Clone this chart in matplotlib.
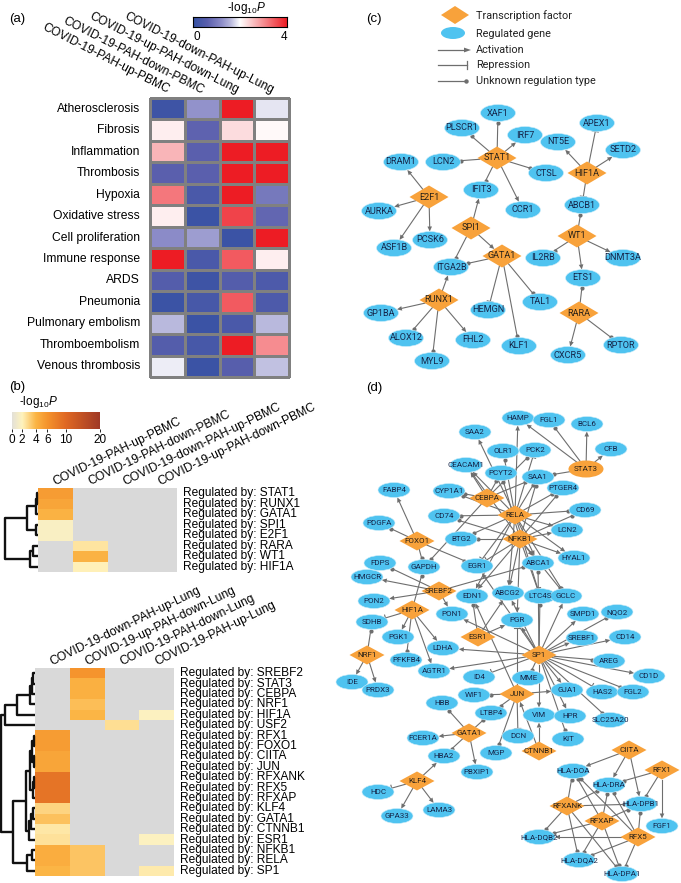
import numpy as np
import matplotlib
matplotlib.use('Agg')
import matplotlib.pyplot as plt
from matplotlib.colors import LinearSegmentedColormap
from matplotlib.patches import Ellipse, Polygon

plt.rcParams['font.family'] = ['Liberation Sans', 'DejaVu Sans']
plt.rcParams['mathtext.fontset'] = 'custom'
plt.rcParams['mathtext.rm'] = 'Liberation Sans'
plt.rcParams['mathtext.it'] = 'Liberation Sans:italic'

# ------------------------------------------------------------------ data (a)
a_conditions = ['COVID-19-PAH-up-PBMC', 'COVID-19-PAH-down-PBMC',
                'COVID-19-up-PAH-down-Lung', 'COVID-19-down-PAH-up-Lung']
a_terms = ['Atherosclerosis', 'Fibrosis', 'Inflammation', 'Thrombosis', 'Hypoxia',
           'Oxidative stress', 'Cell proliferation', 'Immune response', 'ARDS',
           'Pneumonia', 'Pulmonary embolism', 'Thromboembolism', 'Venous thrombosis']
a_pah_up_pbmc = [0.15, 2.15, 2.65, 0.6, 3.2, 2.15, 1.2, 4.0, 0.5, 0.1, 1.6, 0.5, 1.9]
a_pah_down_pbmc = [1.25, 0.65, 0.6, 0.6, 0.35, 0.1, 1.35, 0.35, 0.15, 0.3, 0.1, 0.3, 0.1]
a_up_pah_down_lung = [4.0, 2.3, 4.0, 4.0, 4.0, 3.65, 0.1, 3.45, 0.5, 3.45, 0.35, 4.0, 0.55]
a_down_pah_up_lung = [1.85, 2.05, 4.0, 4.0, 0.95, 0.7, 4.0, 2.15, 0.4, 0.4, 1.6, 3.0, 1.65]

# ------------------------------------------------------------------ data (b)
nan = np.nan
b1_conditions = ['COVID-19-PAH-up-PBMC', 'COVID-19-PAH-down-PBMC',
                 'COVID-19-down-PAH-up-PBMC', 'COVID-19-up-PAH-down-PBMC']
b1_regulators = ['STAT1', 'RUNX1', 'GATA1', 'SPI1', 'E2F1', 'RARA', 'WT1', 'HIF1A']
b1_pah_up_pbmc = [5.5, 5.0, 4.2, 1.6, 1.6, nan, nan, nan]
b1_pah_down_pbmc = [nan, nan, nan, nan, nan, 2.5, 4.2, 2.1]
b1_down_pah_up_pbmc = [nan] * 8
b1_up_pah_down_pbmc = [nan] * 8
b1_tree = (((('STAT1', 'RUNX1', 1), 'GATA1', 2), ('SPI1', 'E2F1', 2), 11),
           (('RARA', 'WT1', 5), 'HIF1A', 8), 33)

b2_conditions = ['COVID-19-down-PAH-up-Lung', 'COVID-19-up-PAH-down-Lung',
                 'COVID-19-PAH-down-Lung', 'COVID-19-PAH-up-Lung']
b2_regulators = ['SREBF2', 'STAT3', 'CEBPA', 'NRF1', 'HIF1A', 'USF2', 'RFX1', 'FOXO1',
                 'CIITA', 'JUN', 'RFXANK', 'RFX5', 'RFXAP', 'KLF4', 'GATA1', 'CTNNB1',
                 'ESR1', 'NFKB1', 'RELA', 'SP1']
b2_down_pah_up_lung = [nan, nan, nan, nan, nan, nan, 5.5, 5.5, 5.0, 5.0, 9.0, 9.0, 9.0,
                       3.0, 3.6, 2.4, 2.6, 4.5, 4.5, 4.0]
b2_up_pah_down_lung = [6.0, 4.3, 4.3, 3.7, 4.0, nan, nan, nan, nan, nan, nan, nan, nan,
                       nan, nan, nan, nan, 3.5, 3.5, 3.5]
b2_pah_down_lung = [nan, nan, nan, nan, nan, 2.7] + [nan] * 14
b2_pah_up_lung = [nan, nan, nan, nan, 1.8, nan, nan, nan, nan, nan, nan, nan, nan,
                  nan, nan, nan, 1.8, nan, nan, 2.3]
b2_tree = ((((((('SREBF2', 'STAT3', 2), 'CEBPA', 3), 'NRF1', 5), 'HIF1A', 18), 'USF2', 30),
            ((((('RFX1', 'FOXO1', 1), ('CIITA', 'JUN', 1), 3),
               (('RFXANK', 'RFX5', 1), 'RFXAP', 2), 5),
              ((('KLF4', 'GATA1', 2), 'CTNNB1', 4), 'ESR1', 6), 9),
             (('NFKB1', 'RELA', 3), 'SP1', 8), 22), 34))
b_cbar_ticks = [0, 2, 4, 6, 10, 20]

# ------------------------------------------------------------------ data (c)
c_tfs = ['STAT1', 'HIF1A', 'E2F1', 'SPI1', 'WT1', 'GATA1', 'RUNX1', 'RARA']
c_edges = [('STAT1', 'XAF1', 'u'), ('STAT1', 'PLSCR1', 'u'), ('STAT1', 'IRF7', 'a'),
           ('STAT1', 'LCN2', 'u'), ('STAT1', 'CTSL', 'u'), ('STAT1', 'IFIT3', 'u'),
           ('STAT1', 'CCR1', 'a'),
           ('HIF1A', 'NT5E', 'a'), ('HIF1A', 'APEX1', 'r'), ('HIF1A', 'SETD2', 'a'),
           ('HIF1A', 'ABCB1', 'r'),
           ('E2F1', 'DRAM1', 'a'), ('E2F1', 'AURKA', 'a'), ('E2F1', 'ASF1B', 'a'),
           ('E2F1', 'PCSK6', 'a'),
           ('SPI1', 'IFIT3', 'a'), ('SPI1', 'ITGA2B', 'u'), ('SPI1', 'GATA1', 'a'),
           ('GATA1', 'ITGA2B', 'u'), ('GATA1', 'HEMGN', 'r'), ('GATA1', 'KLF1', 'u'),
           ('GATA1', 'TAL1', 'u'),
           ('WT1', 'ABCB1', 'u'), ('WT1', 'IL2RB', 'u'), ('WT1', 'DNMT3A', 'a'),
           ('WT1', 'ETS1', 'a'),
           ('RUNX1', 'ITGA2B', 'a'), ('RUNX1', 'GP1BA', 'a'), ('RUNX1', 'ALOX12', 'u'),
           ('RUNX1', 'MYL9', 'u'), ('RUNX1', 'FHL2', 'a'),
           ('RARA', 'ETS1', 'u'), ('RARA', 'CXCR5', 'a'), ('RARA', 'RPTOR', 'u')]

# ------------------------------------------------------------------ data (d)
d_tfs = ['CEBPA', 'RELA', 'NFKB1', 'FOXO1', 'SREBF2', 'HIF1A', 'NRF1', 'ESR1', 'SP1',
         'JUN', 'GATA1', 'KLF4', 'CTNNB1', 'CIITA', 'RFX1', 'RFXANK', 'RFXAP', 'RFX5']
d_tf_round = ['STAT3']
d_edges = [
    ('STAT3', 'HAMP', 'a'), ('STAT3', 'FGL1', 'u'), ('STAT3', 'BCL6', 'a'),
    ('STAT3', 'CFB', 'a'), ('STAT3', 'SAA1', 'u'),
    ('CEBPA', 'CEACAM1', 'a'), ('CEBPA', 'CYP1A1', 'u'), ('CEBPA', 'PCK2', 'u'),
    ('CEBPA', 'SAA1', 'u'), ('CEBPA', 'PCYT2', 'u'), ('CEBPA', 'GAPDH', 'u'),
    ('RELA', 'SAA2', 'a'), ('RELA', 'HAMP', 'a'), ('RELA', 'OLR1', 'u'), ('RELA', 'PCK2', 'r'),
    ('RELA', 'CEACAM1', 'a'), ('RELA', 'SAA1', 'u'), ('RELA', 'PTGER4', 'u'),
    ('RELA', 'CD74', 'u'), ('RELA', 'CD69', 'u'), ('RELA', 'LCN2', 'a'), ('RELA', 'BTG2', 'u'),
    ('RELA', 'HYAL1', 'a'), ('RELA', 'EGR1', 'r'), ('RELA', 'ABCA1', 'a'), ('RELA', 'GCLC', 'u'),
    ('RELA', 'LTC4S', 'r'), ('RELA', 'EDN1', 'a'), ('RELA', 'ABCG2', 'a'), ('RELA', 'CYP1A1', 'u'),
    ('NFKB1', 'PCYT2', 'u'), ('NFKB1', 'SAA1', 'u'), ('NFKB1', 'CEACAM1', 'a'),
    ('NFKB1', 'CD74', 'u'), ('NFKB1', 'CD69', 'u'), ('NFKB1', 'LCN2', 'a'),
    ('NFKB1', 'BTG2', 'u'), ('NFKB1', 'HYAL1', 'a'), ('NFKB1', 'ABCA1', 'a'),
    ('NFKB1', 'GCLC', 'u'), ('NFKB1', 'LTC4S', 'r'), ('NFKB1', 'EDN1', 'a'),
    ('NFKB1', 'ABCG2', 'a'), ('NFKB1', 'PTGER4', 'u'), ('NFKB1', 'EGR1', 'r'),
    ('NFKB1', 'PGR', 'a'),
    ('FOXO1', 'FABP4', 'a'), ('FOXO1', 'PDGFA', 'u'), ('FOXO1', 'GAPDH', 'u'),
    ('FOXO1', 'EGR1', 'u'),
    ('SREBF2', 'FDPS', 'u'), ('SREBF2', 'HMGCR', 'a'), ('SREBF2', 'PON2', 'a'),
    ('SREBF2', 'PON1', 'a'), ('SREBF2', 'ABCA1', 'u'),
    ('HIF1A', 'GAPDH', 'u'), ('HIF1A', 'SDHB', 'r'), ('HIF1A', 'PGK1', 'a'),
    ('HIF1A', 'PFKFB4', 'u'), ('HIF1A', 'AGTR1', 'a'), ('HIF1A', 'LDHA', 'a'),
    ('NRF1', 'SDHB', 'u'), ('NRF1', 'IDE', 'a'), ('NRF1', 'PRDX3', 'a'),
    ('ESR1', 'ABCG2', 'a'), ('ESR1', 'PGR', 'a'), ('ESR1', 'EDN1', 'u'),
    ('SP1', 'LDHA', 'a'), ('SP1', 'PON1', 'a'), ('SP1', 'AGTR1', 'a'), ('SP1', 'PGR', 'a'),
    ('SP1', 'LTC4S', 'u'), ('SP1', 'GCLC', 'a'), ('SP1', 'SMPD1', 'a'), ('SP1', 'NQO2', 'u'),
    ('SP1', 'SREBF1', 'a'), ('SP1', 'CD14', 'a'), ('SP1', 'AREG', 'u'), ('SP1', 'CD1D', 'a'),
    ('SP1', 'FGL2', 'u'), ('SP1', 'HAS2', 'r'), ('SP1', 'SLC25A20', 'u'), ('SP1', 'GJA1', 'a'),
    ('SP1', 'HPR', 'a'), ('SP1', 'KIT', 'u'), ('SP1', 'VIM', 'a'), ('SP1', 'MME', 'u'),
    ('SP1', 'ID4', 'r'), ('SP1', 'ABCG2', 'a'), ('SP1', 'ABCA1', 'u'), ('SP1', 'EGR1', 'a'),
    ('JUN', 'EDN1', 'a'), ('JUN', 'GJA1', 'a'), ('JUN', 'LTBP4', 'u'), ('JUN', 'MGP', 'u'),
    ('JUN', 'DCN', 'r'), ('JUN', 'WIF1', 'u'), ('JUN', 'PGR', 'r'),
    ('GATA1', 'HBB', 'u'), ('GATA1', 'LTBP4', 'u'), ('GATA1', 'FCER1A', 'a'),
    ('GATA1', 'HBA2', 'u'), ('GATA1', 'PBXIP1', 'a'),
    ('KLF4', 'HBA2', 'a'), ('KLF4', 'HDC', 'r'), ('KLF4', 'GPA33', 'a'), ('KLF4', 'LAMA3', 'a'),
    ('CTNNB1', 'VIM', 'a'), ('CTNNB1', 'JUN', 'a'),
    ('CIITA', 'HLA-DOA', 'a'), ('CIITA', 'HLA-DRA', 'a'), ('CIITA', 'HLA-DPB1', 'a'),
    ('RFX1', 'HLA-DRA', 'u'), ('RFX1', 'HLA-DPB1', 'u'), ('RFX1', 'FGF1', 'a'),
    ('RFXANK', 'HLA-DOA', 'u'), ('RFXANK', 'HLA-DRA', 'u'), ('RFXANK', 'HLA-DPB1', 'u'),
    ('RFXANK', 'HLA-DQB2', 'u'), ('RFXANK', 'HLA-DQA2', 'u'), ('RFXANK', 'HLA-DPA1', 'u'),
    ('RFXAP', 'HLA-DOA', 'u'), ('RFXAP', 'HLA-DRA', 'u'), ('RFXAP', 'HLA-DPB1', 'u'),
    ('RFXAP', 'HLA-DQB2', 'u'), ('RFXAP', 'HLA-DQA2', 'u'), ('RFXAP', 'HLA-DPA1', 'u'),
    ('RFX5', 'HLA-DOA', 'u'), ('RFX5', 'HLA-DRA', 'u'), ('RFX5', 'HLA-DPB1', 'u'),
    ('RFX5', 'HLA-DQB2', 'a'), ('RFX5', 'HLA-DQA2', 'u'), ('RFX5', 'HLA-DPA1', 'u'),
]

# ------------------------------------------------------------------ layout (pixels)
W, H = 681, 883
c_layout = {
    'XAF1': (498, 113), 'PLSCR1': (462, 128), 'IRF7': (525, 135), 'NT5E': (558, 142),
    'APEX1': (597, 123), 'SETD2': (623, 150), 'STAT1': (497, 158), 'LCN2': (443, 162),
    'DRAM1': (401, 162), 'CTSL': (546, 173), 'HIF1A': (587, 173), 'IFIT3': (481, 190),
    'E2F1': (429, 197), 'CCR1': (523, 210), 'ABCB1': (582, 205), 'AURKA': (379, 211),
    'ASF1B': (394, 248), 'PCSK6': (430, 240), 'SPI1': (471, 228), 'WT1': (577, 236),
    'GATA1': (502, 256), 'IL2RB': (543, 258), 'DNMT3A': (623, 258), 'ITGA2B': (451, 267),
    'ETS1': (583, 278), 'RUNX1': (439, 300), 'TAL1': (540, 302), 'HEMGN': (488, 310),
    'RARA': (579, 313), 'GP1BA': (381, 313), 'FHL2': (473, 340), 'ALOX12': (406, 338),
    'KLF1': (519, 346), 'RPTOR': (621, 345), 'CXCR5': (568, 355), 'MYL9': (432, 361)}
d_layout = {
    'HAMP': (518, 418), 'FGL1': (549, 420), 'BCL6': (587, 424), 'SAA2': (475, 432),
    'CFB': (611, 449), 'OLR1': (503, 451), 'PCK2': (535, 450), 'CEACAM1': (466, 465),
    'PCYT2': (501, 473), 'STAT3': (586, 469), 'SAA1': (538, 477), 'FABP4': (394, 490),
    'PTGER4': (563, 488), 'CYP1A1': (449, 491), 'CEBPA': (487, 498), 'CD69': (585, 510),
    'RELA': (515, 515), 'CD74': (444, 516), 'PDGFA': (379, 523), 'LCN2': (567, 530),
    'BTG2': (461, 539), 'FOXO1': (417, 541), 'NFKB1': (520, 539), 'HYAL1': (574, 558),
    'GAPDH': (424, 567), 'FDPS': (380, 563), 'EGR1': (477, 566), 'ABCA1': (538, 563),
    'HMGCR': (367, 577), 'SREBF2': (439, 591), 'EDN1': (472, 596), 'ABCG2': (508, 593),
    'LTC4S': (540, 596), 'GCLC': (566, 596), 'PON2': (374, 601), 'HIF1A': (412, 610),
    'PON1': (452, 614), 'SMPD1': (583, 614), 'NQO2': (617, 612), 'SDHB': (372, 622),
    'PGR': (517, 620), 'PGK1': (398, 637), 'ESR1': (478, 637), 'SREBF1': (582, 638),
    'CD14': (625, 637), 'LDHA': (443, 648), 'NRF1': (367, 655), 'SP1': (539, 655),
    'PFKFB4': (406, 660), 'AREG': (609, 661), 'AGTR1': (434, 671), 'IDE': (352, 682),
    'PRDX3': (378, 690), 'ID4': (479, 677), 'MME': (528, 678), 'CD1D': (649, 676),
    'GJA1': (567, 690), 'HAS2': (602, 692), 'FGL2': (633, 692), 'WIF1': (474, 695),
    'JUN': (517, 694), 'HBB': (442, 703), 'LTBP4': (491, 713), 'VIM': (539, 715),
    'HPR': (570, 716), 'SLC25A20': (610, 720), 'FCER1A': (423, 738), 'GATA1': (469, 733),
    'DCN': (518, 736), 'KIT': (568, 739), 'MGP': (496, 753), 'CTNNB1': (539, 751),
    'HBA2': (444, 756), 'CIITA': (629, 750), 'PBXIP1': (477, 772), 'HLA-DOA': (573, 771),
    'RFX1': (662, 770), 'KLF4': (417, 781), 'HLA-DRA': (609, 785), 'HDC': (378, 792),
    'RFXANK': (567, 806), 'HLA-DPB1': (641, 804), 'LAMA3': (439, 810), 'GPA33': (397, 816),
    'RFXAP': (602, 821), 'FGF1': (662, 826), 'HLA-DQB2': (539, 837), 'RFX5': (638, 837),
    'HLA-DQA2': (579, 860), 'HLA-DPA1': (622, 874)}

GENE_C = '#4fc3f0'
TF_C = '#f8a23b'
EDGE_C = '#6e6e6e'
NET_FONT = ['Roboto', 'DejaVu Sans']

fig = plt.figure(figsize=(W / 100, H / 100), dpi=100)
fig.patch.set_facecolor('white')


def px_axes(x0, y0, x1, y1):
    return fig.add_axes([x0 / W, 1 - y1 / H, (x1 - x0) / W, (y1 - y0) / H])


# ------------------------------------------------------------------ panel (a)
cmap_a = LinearSegmentedColormap.from_list(
    'bwr_a', [(0, '#3551a3'), (0.15, '#5a5fad'), (0.3, '#8c8cc8'), (0.4, '#b9b9dd'),
              (0.5, '#ffffff'), (1.0, '#ed1c24')])
ax = px_axes(150, 98, 289, 377)
Ma = np.array([a_pah_up_pbmc, a_pah_down_pbmc, a_up_pah_down_lung, a_down_pah_up_lung]).T
mesh = ax.pcolormesh(Ma, cmap=cmap_a, vmin=0, vmax=4, edgecolors='#808080', linewidth=1.0)
mesh.set_clip_on(False)
ax.set_xlim(0, 4)
ax.set_ylim(len(a_terms), 0)
ax.axis('off')
for i, t in enumerate(a_terms):
    ax.text(-0.29, i + 0.5, t, ha='right', va='center', fontsize=8.7)
for j, c in enumerate(a_conditions):
    ax.text(j + 0.5, -0.2, c, rotation=-27, rotation_mode='anchor', ha='right',
            va='baseline', fontsize=8.7)

cax = px_axes(193, 17, 287, 27)
cax.imshow(np.linspace(0, 4, 256)[None, :], cmap=cmap_a, vmin=0, vmax=4, aspect='auto',
           extent=(0, 4, 0, 1))
cax.set_xticks([])
cax.set_yticks([])
for s in cax.spines.values():
    s.set_linewidth(0.8)
cax.text(0.0, -0.35, '0', transform=cax.transAxes, ha='left', va='top', fontsize=8.5)
cax.text(1.0, -0.35, '4', transform=cax.transAxes, ha='right', va='top', fontsize=8.5)
fig.text(246 / W, 1 - 8 / H, r'-log$_{10}$$\it{P}$', ha='center', va='center', fontsize=8.5)
fig.text(9 / W, 1 - 19 / H, '(a)', ha='left', va='center', fontsize=9.5)

# ------------------------------------------------------------------ panel (b)
b_pos = [0, 0.115, 0.27, 0.40, 0.61, 1.0]
cmap_b = LinearSegmentedColormap.from_list(
    'orb', list(zip(b_pos, ['#e4e1d8', '#fff3bd', '#fbb545', '#f5942d', '#e06924', '#a03926'])))
cmap_b.set_bad('#d9d9d9')


def bnorm(v):
    v = np.asarray(v, dtype=float)
    out = np.interp(np.nan_to_num(v), b_cbar_ticks, b_pos)
    return np.ma.masked_invalid(np.where(np.isnan(v), np.nan, out))


def draw_dendro(axd, tree, order, maxh):
    idx = {n: i + 0.5 for i, n in enumerate(order)}

    def rec(node):
        if isinstance(node, str):
            return idx[node], 0.0
        l, r, h = node
        yl, hl = rec(l)
        yr, hr = rec(r)
        axd.plot([hl, h, h, hr], [yl, yl, yr, yr], color='#111111', lw=1.7,
                 solid_capstyle='butt', clip_on=False)
        return (yl + yr) / 2, h
    rec(tree)
    axd.set_xlim(maxh, 0)
    axd.set_ylim(len(order), 0)
    axd.axis('off')


def b_heat(x0, y0, x1, y1, cols, conds, regs, tree, dx0, maxh):
    axh = px_axes(x0, y0, x1, y1)
    M = bnorm(np.array(cols).T)
    axh.pcolormesh(M, cmap=cmap_b, vmin=0, vmax=1)
    axh.set_xlim(0, len(conds))
    axh.set_ylim(len(regs), 0)
    axh.axis('off')
    for i, r in enumerate(regs):
        axh.text(4.17, i + 0.5, 'Regulated by: ' + r, ha='left', va='center', fontsize=8.6)
    for j, c in enumerate(conds):
        axh.text(j + 0.5, -0.3, c, rotation=26, rotation_mode='anchor', ha='left',
                 va='baseline', fontsize=8.7)
    axd = px_axes(dx0, y0, x0, y1)
    draw_dendro(axd, tree, regs, maxh)


b_heat(38, 488, 177, 572,
       [b1_pah_up_pbmc, b1_pah_down_pbmc, b1_down_pah_up_pbmc, b1_up_pah_down_pbmc],
       b1_conditions, b1_regulators, b1_tree, 5, 33)
b_heat(35, 668, 174, 876,
       [b2_down_pah_up_lung, b2_up_pah_down_lung, b2_pah_down_lung, b2_pah_up_lung],
       b2_conditions, b2_regulators, b2_tree, 1, 34)

cbx = px_axes(12, 412, 100, 429)
cbx.imshow(np.linspace(0, 1, 256)[None, :], cmap=cmap_b, vmin=0, vmax=1, aspect='auto',
           extent=(0, 1, 0, 1))
cbx.set_xlim(0, 1)
cbx.set_yticks([])
cbx.set_xticks(b_pos)
cbx.set_xticklabels([str(t) for t in b_cbar_ticks], fontsize=8.5)
cbx.tick_params(axis='x', length=2.5, width=0.6, pad=1)
for s in cbx.spines.values():
    s.set_visible(False)
fig.text(38 / W, 1 - 402 / H, r'-log$_{10}$$\it{P}$', ha='center', va='center', fontsize=8.5)
fig.text(9 / W, 1 - 387 / H, '(b)', ha='left', va='center', fontsize=9.5)

# ------------------------------------------------------------------ networks
axn = px_axes(330, 0, W, H)
axn.set_xlim(330, W)
axn.set_ylim(H, 0)
axn.axis('off')


def boundary(shape, ux, uy):
    kind, a, b = shape
    if kind == 'e':
        return 1.0 / np.sqrt((ux / a) ** 2 + (uy / b) ** 2)
    return 1.0 / (abs(ux) / a + abs(uy) / b)


def draw_edge(p0, s0, p1, s1, t, lw=0.8):
    x0, y0 = p0
    x1, y1 = p1
    L = np.hypot(x1 - x0, y1 - y0)
    ux, uy = (x1 - x0) / L, (y1 - y0) / L
    px, py = -uy, ux
    r0 = boundary(s0, ux, uy)
    r1 = boundary(s1, ux, uy)
    sx, sy = x0 + ux * r0, y0 + uy * r0
    ex, ey = x1 - ux * r1, y1 - uy * r1
    if t == 'a':
        hl, hw = 5.0, 2.3
        bx, by = ex - ux * hl, ey - uy * hl
        axn.plot([sx, bx], [sy, by], color=EDGE_C, lw=lw, zorder=1)
        axn.add_patch(Polygon([(ex, ey), (bx + px * hw, by + py * hw), (bx - px * hw, by - py * hw)],
                              closed=True, fc=EDGE_C, ec='none', zorder=2))
    elif t == 'r':
        axn.plot([sx, ex], [sy, ey], color=EDGE_C, lw=lw, zorder=1)
        axn.plot([ex + px * 3, ex - px * 3], [ey + py * 3, ey - py * 3], color=EDGE_C,
                 lw=lw, zorder=2)
    else:
        dx_, dy_ = ex - ux * 1.2, ey - uy * 1.2
        axn.plot([sx, dx_], [sy, dy_], color=EDGE_C, lw=lw, zorder=1)
        axn.plot([dx_], [dy_], 'o', ms=3.0, color=EDGE_C, mec='none', zorder=2)


def draw_network(layout, tfs, edges, gene_size, tf_size, fs, round_tfs=()):
    shapes = {}
    for name, (x, y) in layout.items():
        if name in tfs:
            w, h = tf_size
            axn.add_patch(Polygon([(x - w / 2, y), (x, y - h / 2), (x + w / 2, y), (x, y + h / 2)],
                                  closed=True, fc=TF_C, ec='none', zorder=3))
            shapes[name] = ('d', w / 2, h / 2)
            tc = '#2a2218'
        elif name in round_tfs:
            w, h = gene_size[0] + 3, gene_size[1] + 2
            axn.add_patch(Ellipse((x, y), w, h, fc=TF_C, ec='none', zorder=3))
            shapes[name] = ('e', w / 2, h / 2)
            tc = '#2a2218'
        else:
            w, h = gene_size
            axn.add_patch(Ellipse((x, y), w, h, fc=GENE_C, ec='#d0eefa', lw=0.4, zorder=3))
            shapes[name] = ('e', w / 2, h / 2)
            tc = '#15264a'
        axn.text(x, y, name, ha='center', va='center', fontsize=fs, color=tc, zorder=4,
                 family=NET_FONT)
    for s, t, k in edges:
        draw_edge(layout[s], shapes[s], layout[t], shapes[t], k)


draw_network(c_layout, c_tfs, c_edges, (35, 17), (39, 23), 6.6)
draw_network(d_layout, d_tfs, d_edges, (32, 15), (35, 19), 5.8, round_tfs=d_tf_round)

# legend for (c)
axn.add_patch(Polygon([(441, 15), (455, 6), (469, 15), (455, 24)], closed=True, fc=TF_C,
                      ec='none'))
axn.add_patch(Ellipse((453, 33), 24, 12, fc=GENE_C, ec='none'))
axn.plot([438, 465], [50, 50], color=EDGE_C, lw=0.9)
axn.add_patch(Polygon([(471, 50), (464, 47.6), (464, 52.4)], closed=True, fc=EDGE_C, ec='none'))
axn.plot([438, 467], [65, 65], color=EDGE_C, lw=0.9)
axn.plot([467, 467], [61, 69], color=EDGE_C, lw=0.9)
axn.plot([438, 466], [81, 81], color=EDGE_C, lw=0.9)
axn.plot([466], [81], 'o', ms=3.2, color=EDGE_C, mec='none')
for ytxt, txt in [(16, 'Transcription factor'), (34, 'Regulated gene'), (50, 'Activation'),
                  (65, 'Repression'), (81, 'Unknown regulation type')]:
    axn.text(476, ytxt, txt, ha='left', va='center', fontsize=7.8,
             family=NET_FONT, color='#222222')

fig.text(366 / W, 1 - 19 / H, '(c)', ha='left', va='center', fontsize=9.5)
fig.text(366 / W, 1 - 388 / H, '(d)', ha='left', va='center', fontsize=9.5)

fig.savefig('out.png', dpi=100, facecolor='white')
